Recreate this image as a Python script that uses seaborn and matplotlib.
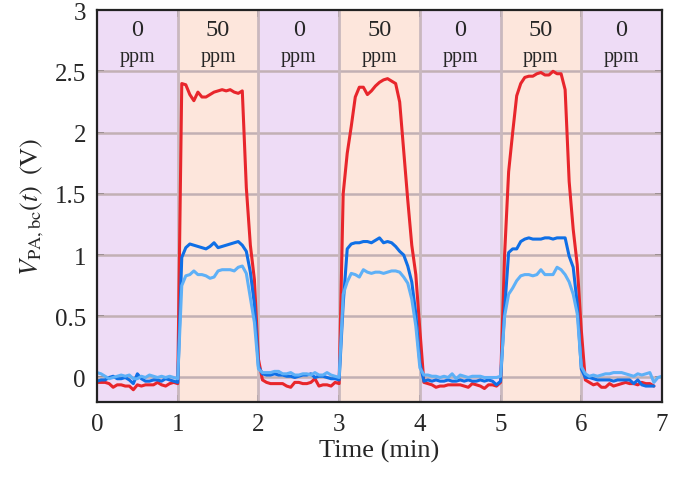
import numpy as np
import pandas as pd
import matplotlib
matplotlib.use("Agg")
import matplotlib.pyplot as plt
import seaborn as sns

# ---- data ----
time_min = np.linspace(0, 7, 141)
nan = np.nan
v_red = [-0.04, -0.04, -0.04, -0.05, -0.08, -0.06, -0.06, -0.07, -0.07, -0.10, -0.06, -0.07, -0.06, -0.06, -0.06, -0.04, -0.06, -0.07, -0.05, -0.04, -0.05,
         2.40, 2.39, 2.31, 2.26, 2.33, 2.29, 2.29, 2.31, 2.33, 2.34, 2.35, 2.34, 2.35, 2.33, 2.32, 2.34, 1.55, 1.08, 0.80, 0.15,
         -0.02, -0.04, -0.05, -0.05, -0.05, -0.05, -0.07, -0.08, -0.04, -0.04, -0.05, -0.05, -0.04, -0.01, -0.07, -0.06, -0.06, -0.07, -0.04, -0.05,
         1.50, 1.83, 2.05, 2.29, 2.37, 2.37, 2.31, 2.34, 2.38, 2.41, 2.43, 2.44, 2.42, 2.40, 2.25, 1.85, 1.45, 1.08, 0.84, 0.39,
         -0.04, -0.05, -0.06, -0.08, -0.07, -0.07, -0.06, -0.06, -0.06, -0.06, -0.07, -0.08, -0.05, -0.06, -0.07, -0.09, -0.06, -0.06, -0.07, -0.04,
         1.00, 1.68, 2.00, 2.30, 2.40, 2.45, 2.46, 2.46, 2.48, 2.49, 2.47, 2.47, 2.50, 2.48, 2.48, 2.35, 1.60, 1.21, 0.92, 0.39,
         -0.02, -0.04, -0.06, -0.05, -0.08, -0.08, -0.05, -0.07, -0.06, -0.05, -0.04, -0.05, -0.05, -0.06, -0.04, -0.05, -0.05, -0.07, nan, nan]
v_blue = [-0.03, -0.02, -0.02, 0.0, 0.01, -0.01, -0.01, 0.0, -0.02, -0.05, 0.03, -0.01, -0.03, -0.03, -0.02, -0.02, -0.03, -0.01, -0.02, -0.03, -0.04,
          0.98, 1.06, 1.09, 1.08, 1.07, 1.06, 1.05, 1.07, 1.10, 1.06, 1.07, 1.08, 1.09, 1.10, 1.11, 1.08, 1.03, 0.86, 0.60, 0.09,
          0.03, 0.02, 0.02, 0.03, 0.02, 0.02, 0.01, 0.01, 0.0, 0.01, 0.02, 0.02, 0.03, 0.0, 0.01, 0.01, 0.0, -0.01, -0.01, -0.02,
          0.60, 1.05, 1.09, 1.10, 1.10, 1.11, 1.11, 1.10, 1.12, 1.14, 1.10, 1.11, 1.10, 1.07, 1.03, 1.00, 0.91, 0.78, 0.52, 0.12,
          -0.03, -0.02, -0.03, -0.02, -0.03, -0.03, -0.02, -0.03, -0.03, -0.02, -0.03, -0.02, -0.03, -0.03, -0.02, -0.03, -0.02, -0.03, -0.06, -0.03,
          0.55, 1.02, 1.05, 1.05, 1.11, 1.13, 1.14, 1.13, 1.13, 1.13, 1.14, 1.14, 1.13, 1.14, 1.14, 1.14, 0.99, 0.90, 0.60, 0.07,
          0.0, 0.0, -0.01, -0.02, -0.02, -0.02, -0.02, -0.03, -0.02, -0.02, -0.02, -0.02, -0.05, -0.02, -0.06, -0.07, -0.07, -0.07, nan, nan]
v_light = [0.04, 0.03, 0.01, -0.01, 0.0, 0.01, 0.02, 0.01, 0.02, -0.01, -0.01, 0.01, 0.0, 0.02, 0.01, 0.0, 0.01, 0.0, 0.01, 0.0, -0.01,
           0.75, 0.83, 0.84, 0.87, 0.84, 0.84, 0.83, 0.81, 0.82, 0.87, 0.88, 0.88, 0.88, 0.87, 0.90, 0.91, 0.85, 0.65, 0.45, 0.07,
           0.04, 0.04, 0.04, 0.05, 0.05, 0.03, 0.03, 0.04, 0.02, 0.02, 0.03, 0.03, 0.02, 0.04, 0.02, 0.02, 0.04, 0.02, 0.01, 0.0,
           0.68, 0.78, 0.85, 0.84, 0.82, 0.88, 0.86, 0.85, 0.86, 0.86, 0.85, 0.86, 0.87, 0.87, 0.86, 0.82, 0.77, 0.64, 0.42, 0.08,
           0.02, 0.02, 0.01, 0.01, 0.0, 0.01, 0.0, 0.03, -0.01, 0.02, 0.01, 0.0, 0.01, 0.01, 0.01, 0.0, 0.0, 0.0, 0.0, 0.01,
           0.50, 0.68, 0.73, 0.79, 0.83, 0.84, 0.84, 0.83, 0.84, 0.88, 0.84, 0.84, 0.84, 0.90, 0.88, 0.84, 0.78, 0.68, 0.52, 0.09,
           0.03, 0.01, 0.02, 0.01, 0.02, 0.03, 0.03, 0.04, 0.04, 0.04, 0.03, 0.02, 0.01, 0.03, 0.02, 0.03, 0.04, -0.04, 0.0, 0.01]

seg_start = [0, 1, 2, 3, 4, 5, 6]
seg_end = [1, 2, 3, 4, 5, 6, 7]
conc_ppm = [0, 50, 0, 50, 0, 50, 0]

x_ticks = [0, 1, 2, 3, 4, 5, 6, 7]
y_ticks = [0, 0.5, 1, 1.5, 2, 2.5, 3]
y_ticklabels = ["0", "0.5", "1", "1.5", "2", "2.5", "3"]

series_names = ["red", "blue", "light"]
series_colors = {"red": "#E8262C", "blue": "#0F6FE6", "light": "#5EB0F7"}

df = pd.concat([
    pd.DataFrame({"t": time_min, "v": v, "s": name})
    for name, v in zip(series_names, [v_red, v_blue, v_light])
], ignore_index=True).dropna()

# ---- style ----
sns.set_style("ticks")
plt.rcParams["font.family"] = ["Liberation Serif", "DejaVu Serif"]
plt.rcParams["mathtext.fontset"] = "stix"

fig = plt.figure(figsize=(6.91, 4.81), dpi=100)
ax = fig.add_axes([0.1404, 0.1622, 0.958 - 0.1404, 0.977 - 0.1622])

bg = {0: "#EEDCF6", 50: "#FDE6DC"}
for a, b, c in zip(seg_start, seg_end, conc_ppm):
    ax.axvspan(a, b, color=bg[c], lw=0, zorder=0)
    ax.text((a + b) / 2, 2.84, str(c), ha="center", va="center", fontsize=17.5, zorder=5)
    ax.text((a + b) / 2, 2.62, "ppm", ha="center", va="center", fontsize=14.5, zorder=5)

for yv in y_ticks[:-1]:
    ax.axhline(yv, color="#C2B0B4", lw=1.8, zorder=1)
for xv in seg_start[1:]:
    ax.axvline(xv, color="#C9B8BE", lw=2.0, zorder=1)

sns.lineplot(data=df, x="t", y="v", hue="s", hue_order=series_names,
             palette=series_colors, lw=2.2, legend=False, ax=ax, zorder=3, sort=False)

ax.set_xlim(0, 7)
ax.set_ylim(-0.2, 3)
ax.set_xticks(x_ticks)
ax.set_yticks(y_ticks)
ax.set_yticklabels(y_ticklabels)
ax.tick_params(direction="in", length=5, width=1.3, labelsize=18, top=True, right=True, color="#222222", pad=8)
ax.set_xlabel("Time (min)", fontsize=19, labelpad=3)
ax.set_ylabel(r"$V_{\mathrm{PA,bc}}(t)\;\;(\mathrm{V})$", fontsize=19, labelpad=6)
for sp in ax.spines.values():
    sp.set_linewidth(1.6)
    sp.set_color("#222222")
    sp.set_zorder(6)

fig.savefig("out.png", dpi=100)
